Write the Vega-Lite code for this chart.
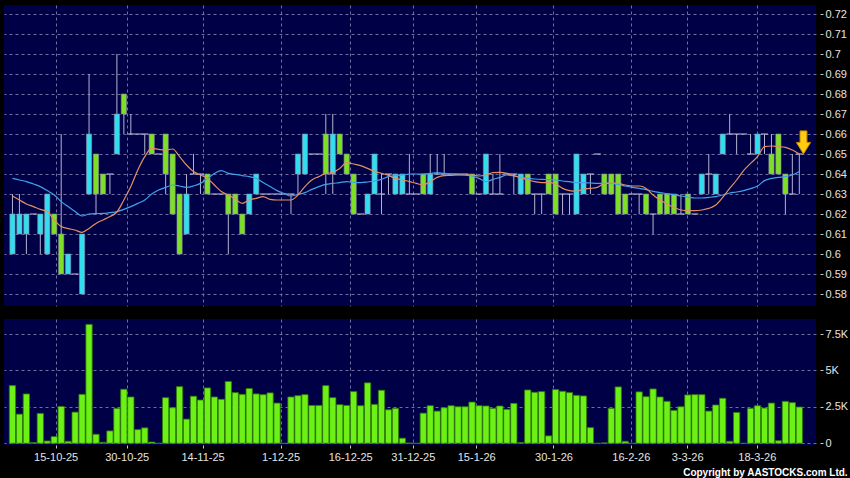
{
  "$schema": "https://vega.github.io/schema/vega-lite/v6.json",
  "background": "#000000",
  "padding": {"left": 4, "top": 5, "right": 2, "bottom": 0},
  "spacing": 13,
  "title": {"text": "Copyright by AASTOCKS.com Ltd.", "orient": "bottom", "anchor": "end", "fontSize": 10, "fontWeight": "bold", "color": "#ffffff", "font": "Liberation Sans", "offset": 6},
  "datasets": {
    "d": [
      {"i":1,"o":0.60,"h":0.63,"l":0.60,"c":0.62,"v":3960,"m1":0.629,"m2":0.6378},
      {"i":2,"o":0.61,"h":0.63,"l":0.61,"c":0.62,"v":2000,"m1":0.627,"m2":0.637},
      {"i":3,"o":0.61,"h":0.62,"l":0.60,"c":0.62,"v":3390,"m1":0.625,"m2":0.6362},
      {"i":4,"o":0.62,"h":0.62,"l":0.62,"c":0.62,"v":50,"m1":0.6237,"m2":0.635},
      {"i":5,"o":0.61,"h":0.62,"l":0.60,"c":0.62,"v":2050,"m1":0.6223,"m2":0.6337},
      {"i":6,"o":0.60,"h":0.63,"l":0.60,"c":0.63,"v":160,"m1":0.6212,"m2":0.6317},
      {"i":7,"o":0.62,"h":0.62,"l":0.61,"c":0.61,"v":460,"m1":0.617,"m2":0.6295},
      {"i":8,"o":0.61,"h":0.66,"l":0.59,"c":0.59,"v":2530,"m1":0.6137,"m2":0.6262},
      {"i":9,"o":0.59,"h":0.60,"l":0.59,"c":0.60,"v":140,"m1":0.6127,"m2":0.6237},
      {"i":10,"o":0.59,"h":0.59,"l":0.59,"c":0.59,"v":2140,"m1":0.612,"m2":0.6212},
      {"i":11,"o":0.58,"h":0.61,"l":0.58,"c":0.61,"v":3360,"m1":0.6108,"m2":0.619},
      {"i":12,"o":0.63,"h":0.69,"l":0.63,"c":0.66,"v":8160,"m1":0.6128,"m2":0.62},
      {"i":13,"o":0.65,"h":0.65,"l":0.62,"c":0.63,"v":620,"m1":0.6153,"m2":0.6202},
      {"i":14,"o":0.64,"h":0.64,"l":0.63,"c":0.63,"v":70,"m1":0.617,"m2":0.6203},
      {"i":15,"o":0.64,"h":0.64,"l":0.63,"c":0.64,"v":850,"m1":0.6187,"m2":0.6207},
      {"i":16,"o":0.65,"h":0.70,"l":0.65,"c":0.67,"v":2400,"m1":0.621,"m2":0.6212},
      {"i":17,"o":0.68,"h":0.68,"l":0.66,"c":0.67,"v":3710,"m1":0.627,"m2":0.6223},
      {"i":18,"o":0.66,"h":0.67,"l":0.66,"c":0.66,"v":3180,"m1":0.6337,"m2":0.6237},
      {"i":19,"o":0.66,"h":0.66,"l":0.66,"c":0.66,"v":940,"m1":0.642,"m2":0.6253},
      {"i":20,"o":0.66,"h":0.66,"l":0.65,"c":0.66,"v":1060,"m1":0.6487,"m2":0.627},
      {"i":21,"o":0.66,"h":0.66,"l":0.65,"c":0.65,"v":90,"m1":0.6528,"m2":0.63},
      {"i":22,"o":0.65,"h":0.65,"l":0.65,"c":0.65,"v":0,"m1":0.6523,"m2":0.632},
      {"i":23,"o":0.66,"h":0.66,"l":0.63,"c":0.64,"v":3130,"m1":0.652,"m2":0.6333},
      {"i":24,"o":0.65,"h":0.65,"l":0.62,"c":0.62,"v":2440,"m1":0.6525,"m2":0.6345},
      {"i":25,"o":0.63,"h":0.63,"l":0.60,"c":0.60,"v":3890,"m1":0.6487,"m2":0.634},
      {"i":26,"o":0.61,"h":0.64,"l":0.61,"c":0.63,"v":1660,"m1":0.6445,"m2":0.6333},
      {"i":27,"o":0.64,"h":0.65,"l":0.64,"c":0.64,"v":3230,"m1":0.6412,"m2":0.634},
      {"i":28,"o":0.64,"h":0.64,"l":0.63,"c":0.64,"v":2970,"m1":0.6395,"m2":0.6353},
      {"i":29,"o":0.64,"h":0.64,"l":0.63,"c":0.63,"v":3800,"m1":0.6378,"m2":0.6378},
      {"i":30,"o":0.63,"h":0.63,"l":0.63,"c":0.63,"v":3180,"m1":0.6345,"m2":0.6403},
      {"i":31,"o":0.63,"h":0.63,"l":0.63,"c":0.63,"v":3020,"m1":0.6312,"m2":0.6417},
      {"i":32,"o":0.63,"h":0.63,"l":0.60,"c":0.62,"v":4240,"m1":0.6295,"m2":0.6403},
      {"i":33,"o":0.63,"h":0.63,"l":0.62,"c":0.62,"v":3480,"m1":0.6275,"m2":0.6398},
      {"i":34,"o":0.62,"h":0.62,"l":0.61,"c":0.61,"v":3360,"m1":0.6253,"m2":0.6392},
      {"i":35,"o":0.62,"h":0.63,"l":0.62,"c":0.63,"v":3760,"m1":0.627,"m2":0.6387},
      {"i":36,"o":0.63,"h":0.64,"l":0.63,"c":0.64,"v":3390,"m1":0.6278,"m2":0.6378},
      {"i":37,"o":0.63,"h":0.63,"l":0.63,"c":0.63,"v":3340,"m1":0.6287,"m2":0.6357},
      {"i":38,"o":0.63,"h":0.63,"l":0.63,"c":0.63,"v":3460,"m1":0.6273,"m2":0.6337},
      {"i":39,"o":0.63,"h":0.63,"l":0.63,"c":0.63,"v":2760,"m1":0.627,"m2":0.6317},
      {"i":40,"o":0.63,"h":0.63,"l":0.63,"c":0.63,"v":0,"m1":0.627,"m2":0.6303},
      {"i":41,"o":0.63,"h":0.63,"l":0.62,"c":0.63,"v":3180,"m1":0.627,"m2":0.629},
      {"i":42,"o":0.64,"h":0.65,"l":0.63,"c":0.65,"v":3270,"m1":0.6295,"m2":0.6298},
      {"i":43,"o":0.64,"h":0.66,"l":0.64,"c":0.66,"v":3340,"m1":0.6337,"m2":0.6307},
      {"i":44,"o":0.65,"h":0.65,"l":0.65,"c":0.65,"v":2600,"m1":0.637,"m2":0.6323},
      {"i":45,"o":0.65,"h":0.65,"l":0.65,"c":0.65,"v":2600,"m1":0.6387,"m2":0.6337},
      {"i":46,"o":0.66,"h":0.67,"l":0.63,"c":0.64,"v":3960,"m1":0.6403,"m2":0.6348},
      {"i":47,"o":0.64,"h":0.67,"l":0.63,"c":0.66,"v":3130,"m1":0.6407,"m2":0.6353},
      {"i":48,"o":0.66,"h":0.66,"l":0.65,"c":0.65,"v":2650,"m1":0.6428,"m2":0.6357},
      {"i":49,"o":0.65,"h":0.65,"l":0.64,"c":0.64,"v":2600,"m1":0.6457,"m2":0.6362},
      {"i":50,"o":0.64,"h":0.64,"l":0.62,"c":0.62,"v":3550,"m1":0.645,"m2":0.6358},
      {"i":51,"o":0.62,"h":0.62,"l":0.62,"c":0.62,"v":2580,"m1":0.6442,"m2":0.6357},
      {"i":52,"o":0.62,"h":0.63,"l":0.62,"c":0.63,"v":4150,"m1":0.6428,"m2":0.636},
      {"i":53,"o":0.63,"h":0.65,"l":0.63,"c":0.65,"v":2670,"m1":0.6413,"m2":0.6365},
      {"i":54,"o":0.63,"h":0.64,"l":0.62,"c":0.63,"v":3640,"m1":0.6403,"m2":0.6373},
      {"i":55,"o":0.64,"h":0.64,"l":0.63,"c":0.64,"v":2300,"m1":0.6393,"m2":0.6387},
      {"i":56,"o":0.63,"h":0.64,"l":0.63,"c":0.64,"v":2400,"m1":0.6378,"m2":0.6392},
      {"i":57,"o":0.63,"h":0.64,"l":0.63,"c":0.64,"v":350,"m1":0.637,"m2":0.6395},
      {"i":58,"o":0.63,"h":0.65,"l":0.63,"c":0.63,"v":20,"m1":0.6362,"m2":0.64},
      {"i":59,"o":0.63,"h":0.63,"l":0.63,"c":0.63,"v":0,"m1":0.6353,"m2":0.64},
      {"i":60,"o":0.64,"h":0.64,"l":0.63,"c":0.63,"v":2070,"m1":0.6345,"m2":0.64},
      {"i":61,"o":0.63,"h":0.65,"l":0.63,"c":0.64,"v":2580,"m1":0.6362,"m2":0.6403},
      {"i":62,"o":0.64,"h":0.65,"l":0.64,"c":0.64,"v":2210,"m1":0.6383,"m2":0.6407},
      {"i":63,"o":0.64,"h":0.65,"l":0.64,"c":0.64,"v":2440,"m1":0.6392,"m2":0.6403},
      {"i":64,"o":0.64,"h":0.64,"l":0.64,"c":0.64,"v":2580,"m1":0.6393,"m2":0.64},
      {"i":65,"o":0.64,"h":0.64,"l":0.64,"c":0.64,"v":2510,"m1":0.6395,"m2":0.6397},
      {"i":66,"o":0.64,"h":0.64,"l":0.64,"c":0.64,"v":2510,"m1":0.6395,"m2":0.6395},
      {"i":67,"o":0.64,"h":0.64,"l":0.63,"c":0.63,"v":2830,"m1":0.6395,"m2":0.639},
      {"i":68,"o":0.63,"h":0.63,"l":0.63,"c":0.63,"v":2580,"m1":0.639,"m2":0.6378},
      {"i":69,"o":0.63,"h":0.65,"l":0.63,"c":0.65,"v":2560,"m1":0.6395,"m2":0.6362},
      {"i":70,"o":0.63,"h":0.64,"l":0.63,"c":0.63,"v":2400,"m1":0.6407,"m2":0.6373},
      {"i":71,"o":0.63,"h":0.65,"l":0.63,"c":0.63,"v":2560,"m1":0.6408,"m2":0.6383},
      {"i":72,"o":0.64,"h":0.64,"l":0.64,"c":0.64,"v":2330,"m1":0.6403,"m2":0.6395},
      {"i":73,"o":0.64,"h":0.64,"l":0.63,"c":0.64,"v":2740,"m1":0.6392,"m2":0.639},
      {"i":74,"o":0.63,"h":0.64,"l":0.63,"c":0.64,"v":50,"m1":0.6382,"m2":0.6383},
      {"i":75,"o":0.64,"h":0.64,"l":0.63,"c":0.63,"v":3660,"m1":0.637,"m2":0.6378},
      {"i":76,"o":0.63,"h":0.63,"l":0.62,"c":0.63,"v":3500,"m1":0.6362,"m2":0.6375},
      {"i":77,"o":0.63,"h":0.63,"l":0.62,"c":0.63,"v":3550,"m1":0.6357,"m2":0.6373},
      {"i":78,"o":0.64,"h":0.64,"l":0.63,"c":0.63,"v":510,"m1":0.6357,"m2":0.6372},
      {"i":79,"o":0.64,"h":0.64,"l":0.62,"c":0.62,"v":3690,"m1":0.635,"m2":0.637},
      {"i":80,"o":0.63,"h":0.63,"l":0.62,"c":0.63,"v":3570,"m1":0.6328,"m2":0.6365},
      {"i":81,"o":0.63,"h":0.63,"l":0.62,"c":0.63,"v":3480,"m1":0.6317,"m2":0.6362},
      {"i":82,"o":0.62,"h":0.65,"l":0.62,"c":0.65,"v":3290,"m1":0.6313,"m2":0.6357},
      {"i":83,"o":0.63,"h":0.64,"l":0.63,"c":0.64,"v":3250,"m1":0.6325,"m2":0.6357},
      {"i":84,"o":0.64,"h":0.64,"l":0.63,"c":0.64,"v":1080,"m1":0.6328,"m2":0.6355},
      {"i":85,"o":0.65,"h":0.65,"l":0.65,"c":0.65,"v":0,"m1":0.6333,"m2":0.6353},
      {"i":86,"o":0.64,"h":0.64,"l":0.63,"c":0.63,"v":30,"m1":0.6353,"m2":0.6353},
      {"i":87,"o":0.64,"h":0.64,"l":0.63,"c":0.63,"v":2400,"m1":0.6355,"m2":0.6353},
      {"i":88,"o":0.64,"h":0.64,"l":0.62,"c":0.62,"v":3870,"m1":0.6353,"m2":0.6348},
      {"i":89,"o":0.63,"h":0.63,"l":0.62,"c":0.62,"v":140,"m1":0.6345,"m2":0.634},
      {"i":90,"o":0.63,"h":0.63,"l":0.63,"c":0.63,"v":0,"m1":0.634,"m2":0.6333},
      {"i":91,"o":0.63,"h":0.63,"l":0.62,"c":0.63,"v":3530,"m1":0.634,"m2":0.6328},
      {"i":92,"o":0.63,"h":0.63,"l":0.62,"c":0.62,"v":3200,"m1":0.6328,"m2":0.6322},
      {"i":93,"o":0.62,"h":0.62,"l":0.61,"c":0.62,"v":3730,"m1":0.6295,"m2":0.6313},
      {"i":94,"o":0.63,"h":0.63,"l":0.62,"c":0.62,"v":3180,"m1":0.627,"m2":0.6307},
      {"i":95,"o":0.63,"h":0.63,"l":0.62,"c":0.62,"v":2880,"m1":0.625,"m2":0.6302},
      {"i":96,"o":0.63,"h":0.63,"l":0.62,"c":0.62,"v":2260,"m1":0.6233,"m2":0.6297},
      {"i":97,"o":0.62,"h":0.63,"l":0.62,"c":0.62,"v":2510,"m1":0.622,"m2":0.629},
      {"i":98,"o":0.63,"h":0.63,"l":0.62,"c":0.62,"v":3320,"m1":0.6217,"m2":0.6285},
      {"i":99,"o":0.62,"h":0.62,"l":0.62,"c":0.62,"v":3340,"m1":0.6217,"m2":0.628},
      {"i":100,"o":0.63,"h":0.64,"l":0.63,"c":0.64,"v":3340,"m1":0.622,"m2":0.628},
      {"i":101,"o":0.64,"h":0.65,"l":0.63,"c":0.64,"v":2210,"m1":0.6228,"m2":0.6283},
      {"i":102,"o":0.63,"h":0.64,"l":0.63,"c":0.64,"v":2630,"m1":0.6245,"m2":0.6287},
      {"i":103,"o":0.65,"h":0.66,"l":0.65,"c":0.66,"v":3090,"m1":0.6283,"m2":0.6295},
      {"i":104,"o":0.66,"h":0.67,"l":0.66,"c":0.66,"v":140,"m1":0.6328,"m2":0.6305},
      {"i":105,"o":0.66,"h":0.66,"l":0.65,"c":0.66,"v":2120,"m1":0.637,"m2":0.631},
      {"i":106,"o":0.66,"h":0.66,"l":0.66,"c":0.66,"v":0,"m1":0.6417,"m2":0.6317},
      {"i":107,"o":0.65,"h":0.66,"l":0.65,"c":0.65,"v":2400,"m1":0.6453,"m2":0.6327},
      {"i":108,"o":0.65,"h":0.66,"l":0.65,"c":0.66,"v":2580,"m1":0.6487,"m2":0.634},
      {"i":109,"o":0.66,"h":0.66,"l":0.65,"c":0.66,"v":2420,"m1":0.6537,"m2":0.6367},
      {"i":110,"o":0.65,"h":0.66,"l":0.64,"c":0.64,"v":2760,"m1":0.654,"m2":0.6378},
      {"i":111,"o":0.66,"h":0.66,"l":0.64,"c":0.64,"v":180,"m1":0.6537,"m2":0.6383},
      {"i":112,"o":0.64,"h":0.64,"l":0.62,"c":0.63,"v":2880,"m1":0.6533,"m2":0.6387},
      {"i":113,"o":0.63,"h":0.65,"l":0.63,"c":0.63,"v":2790,"m1":0.652,"m2":0.6395},
      {"i":114,"o":0.65,"h":0.65,"l":0.63,"c":0.65,"v":2490,"m1":0.65,"m2":0.6413}
    ],
    "arrow": [{"i": 114.6, "p": 0.6558}]
  },
  "vconcat": [
    {
      "width": 812,
      "height": 301,
      "data": {"name": "d"},
      "encoding": {
        "x": {"field": "i", "type": "quantitative",
          "scale": {"domain": [0.504, 115.68], "nice": false, "zero": false},
          "axis": {"values": [7.2, 17.4, 28.3, 39.5, 49.5, 58.5, 67.6, 78.7, 89.8, 97.9, 107.9], "labels": false, "ticks": false, "domain": false, "grid": true, "title": null, "minExtent": 0, "maxExtent": 0}},
        "y": {"field": "l", "type": "quantitative", "scale": {"domain": [0.574, 0.7245], "nice": false, "zero": false},
          "axis": {"orient": "right", "values": [0.58,0.59,0.6,0.61,0.62,0.63,0.64,0.65,0.66,0.67,0.68,0.69,0.7,0.71,0.72], "format": "~g", "title": null, "domain": false, "grid": true, "offset": 4, "tickSize": 3}}
      },
      "layer": [
        {
          "mark": {"type": "rule", "color": "#b4b4d0", "strokeWidth": 1},
          "encoding": {
            "y2": {"field": "h"}
          }
        },
        {
          "transform": [{"filter": "datum.o != datum.c"}],
          "mark": {"type": "bar", "size": 5.2, "stroke": "#8a8aa8", "strokeWidth": 0.6},
          "encoding": {
            "y": {"field": "o", "type": "quantitative", "scale": {"domain": [0.574, 0.7245], "nice": false, "zero": false},
              "axis": {"orient": "right", "values": [0.58,0.59,0.6,0.61,0.62,0.63,0.64,0.65,0.66,0.67,0.68,0.69,0.7,0.71,0.72], "format": "~g", "title": null, "domain": false, "grid": true, "offset": 4, "tickSize": 3}},
            "y2": {"field": "c"},
            "color": {"condition": {"test": "datum.c > datum.o", "value": "#33ddf0"}, "value": "#7ee025"}
          }
        },
        {
          "transform": [{"filter": "datum.o == datum.c"}],
          "mark": {"type": "tick", "orient": "horizontal", "size": 7, "thickness": 1, "color": "#c8c8dc", "opacity": 1},
          "encoding": {
            "y": {"field": "c", "type": "quantitative", "scale": {"domain": [0.574, 0.7245], "nice": false, "zero": false},
              "axis": {"orient": "right", "values": [0.58,0.59,0.6,0.61,0.62,0.63,0.64,0.65,0.66,0.67,0.68,0.69,0.7,0.71,0.72], "format": "~g", "title": null, "domain": false, "grid": true, "offset": 4, "tickSize": 3}}
          }
        },
        {
          "mark": {"type": "line", "color": "#3fa2ea", "strokeWidth": 1.2, "interpolate": "monotone"},
          "encoding": {
            "y": {"field": "m2", "type": "quantitative", "scale": {"domain": [0.574, 0.7245], "nice": false, "zero": false},
              "axis": {"orient": "right", "values": [0.58,0.59,0.6,0.61,0.62,0.63,0.64,0.65,0.66,0.67,0.68,0.69,0.7,0.71,0.72], "format": "~g", "title": null, "domain": false, "grid": true, "offset": 4, "tickSize": 3}}
          }
        },
        {
          "mark": {"type": "line", "color": "#e29060", "strokeWidth": 1.2, "interpolate": "monotone"},
          "encoding": {
            "y": {"field": "m1", "type": "quantitative", "scale": {"domain": [0.574, 0.7245], "nice": false, "zero": false},
              "axis": {"orient": "right", "values": [0.58,0.59,0.6,0.61,0.62,0.63,0.64,0.65,0.66,0.67,0.68,0.69,0.7,0.71,0.72], "format": "~g", "title": null, "domain": false, "grid": true, "offset": 4, "tickSize": 3}}
          }
        },
        {
          "data": {"name": "arrow"},
          "mark": {"type": "point", "shape": "M-0.3,-1L0.3,-1L0.3,0L0.62,0L0,1L-0.62,0L-0.3,0Z", "size": 529, "filled": true, "fill": "#ffcc10", "stroke": "#c88a00", "strokeWidth": 1, "opacity": 1},
          "encoding": {
            "y": {"field": "p", "type": "quantitative", "scale": {"domain": [0.574, 0.7245], "nice": false, "zero": false},
              "axis": {"orient": "right", "values": [0.58,0.59,0.6,0.61,0.62,0.63,0.64,0.65,0.66,0.67,0.68,0.69,0.7,0.71,0.72], "format": "~g", "title": null, "domain": false, "grid": true, "offset": 4, "tickSize": 3}}
          }
        }
      ]
    },
    {
      "width": 812,
      "height": 126,
      "data": {"name": "d"},
      "mark": {"type": "bar", "size": 6.3, "fill": "#6cf015", "stroke": "#2f7a08", "strokeWidth": 0.8},
      "encoding": {
        "x": {"field": "i", "type": "quantitative",
          "scale": {"domain": [0.504, 115.68], "nice": false, "zero": false},
          "axis": {"values": [7.2, 17.4, 28.3, 39.5, 49.5, 58.5, 67.6, 78.7, 89.8, 97.9, 107.9],
            "labelExpr": "['15-10-25','30-10-25','14-11-25','1-12-25','16-12-25','31-12-25','15-1-26','30-1-26','16-2-26','3-3-26','18-3-26'][indexof([7.2, 17.4, 28.3, 39.5, 49.5, 58.5, 67.6, 78.7, 89.8, 97.9, 107.9], datum.value)]",
            "ticks": true, "tickSize": 3, "labelPadding": 3, "domain": false, "grid": true, "title": null, "labelFlush": false, "labelOverlap": false}},
        "y": {"field": "v", "type": "quantitative", "scale": {"domain": [-117, 8530], "nice": false, "zero": false},
          "axis": {"orient": "right", "values": [0, 2500, 5000, 7500], "labelExpr": "datum.value == 0 ? '0' : (datum.value / 1000) + 'K'", "title": null, "domain": false, "grid": true, "offset": 4, "tickSize": 3}},
        "y2": {"datum": 0}
      }
    }
  ],
  "config": {
    "view": {"fill": "#000046", "stroke": null},
    "font": "Liberation Sans",
    "axis": {
      "labelFont": "Liberation Sans",
      "labelFontSize": 11,
      "labelColor": "#e4e4e4",
      "tickColor": "#c8c8c8",
      "gridColor": "#6e6ea0",
      "gridDash": [3, 3],
      "gridWidth": 1,
      "labelPadding": 2
    }
  }
}
